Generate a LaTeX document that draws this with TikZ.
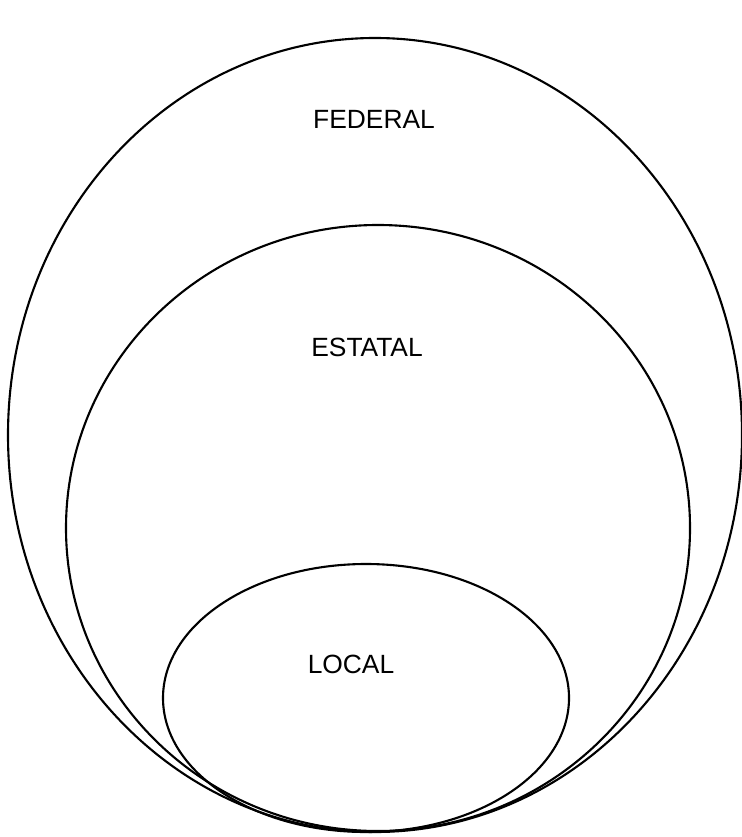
\documentclass[tikz,border=0pt]{standalone}
\usepackage{fontspec}
\setmainfont{Liberation Sans}
\begin{document}
\begin{tikzpicture}[x=.01cm,y=-.01cm,line width=.6pt,every node/.append style={font=\fontsize{7.5}{9}\selectfont}]
  \useasboundingbox(0,0)rectangle(741,837);
  \coordinate(F)at(375,435);
  \coordinate(E)at(378,528);
  \coordinate(L)at(366,698);
  \draw(F)ellipse[x radius=367,y radius=397];
  \draw(E)ellipse[x radius=312,y radius=303];
  \draw(L)ellipse[x radius=203,y radius=134];
  \node(federal)at(374,119){FEDERAL};
  \node(estatal)at(367,347){ESTATAL};
  \node(local)at(351,664){LOCAL};
\end{tikzpicture}
\end{document}
